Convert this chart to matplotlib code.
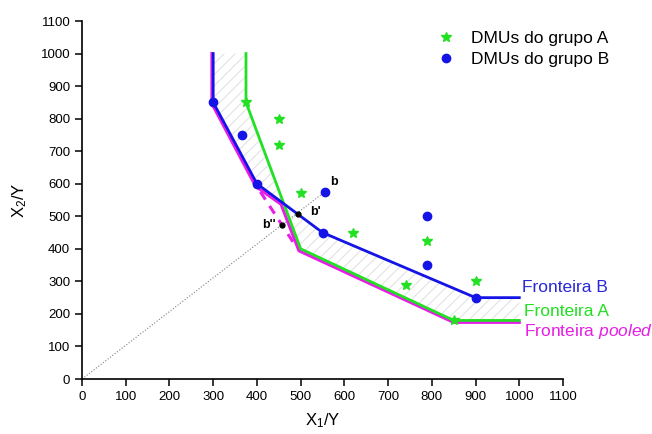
import numpy as np
import matplotlib
matplotlib.use('Agg')
import matplotlib.pyplot as plt
from matplotlib.patches import Polygon

plt.rcParams['font.family'] = ['Liberation Sans', 'DejaVu Sans']
plt.rcParams['mathtext.fontset'] = 'custom'
plt.rcParams['mathtext.rm'] = 'Liberation Sans'
plt.rcParams['mathtext.it'] = 'Liberation Sans:italic'
plt.rcParams['hatch.linewidth'] = 0.8

# DMUs
grupo_a_x = [375, 450, 450, 500, 620, 740, 790, 900, 850]
grupo_a_y = [850, 800, 720, 570, 450, 290, 425, 300, 180]
grupo_b_x = [300, 365, 400, 555, 550, 790, 790, 900]
grupo_b_y = [850, 750, 600, 575, 450, 500, 350, 250]

# fronteiras
front_b_x = [300, 300, 400, 550, 900, 1000]
front_b_y = [1000, 850, 600, 450, 250, 250]
front_a_x = [375, 375, 500, 850, 1000]
front_a_y = [1000, 850, 400, 180, 180]
front_p_x = [297, 297, 397, 455, 496, 850, 1000]
front_p_y = [1000, 846, 592, 537, 394, 174, 174]
front_p_dash_x = [408, 487]
front_p_dash_y = [575, 412]

# ponto b e projeccoes
b = (555, 575)
b1 = (493, 508)
b2 = (458, 474)

azul = '#1414e6'
verde = '#22e022'
magenta = '#e61ee6'

fig = plt.figure(figsize=(6.52, 4.34), dpi=100)
ax = fig.add_axes([0.1258, 0.1267, 0.7377, 0.8249])

# area entre as fronteiras A e B
pts = list(zip(front_b_x, front_b_y)) + list(zip(front_a_x, front_a_y))[::-1]
ax.add_patch(Polygon(pts, closed=True, facecolor='none', edgecolor='#e2e2e2',
                     linewidth=0, hatch='///', zorder=1))

ax.plot([0, b[0]], [0, b[1]], ls=':', color='#808080', lw=0.8, zorder=2)

ax.plot(front_p_x, front_p_y, color=magenta, lw=2.2, zorder=3)
ax.plot(front_p_dash_x, front_p_dash_y, color=magenta, lw=2.2, ls=(0, (3, 2.5)), zorder=3)
ax.plot(front_a_x, front_a_y, color=verde, lw=2.0, zorder=4)
ax.plot(front_b_x, front_b_y, color=azul, lw=2.0, zorder=5)

ax.plot(grupo_a_x, grupo_a_y, ls='none', marker='*', ms=7.5, color=verde,
        label='DMUs do grupo A', zorder=6)
ax.plot(grupo_b_x, grupo_b_y, ls='none', marker='o', ms=6, color=azul,
        label='DMUs do grupo B', zorder=6)
ax.plot([b1[0], b2[0]], [b1[1], b2[1]], ls='none', marker='o', ms=3.5,
        color='black', zorder=7)

ax.text(b[0] + 12, b[1] + 22, 'b', fontsize=9, fontweight='bold')
ax.text(b1[0] + 40, b1[1] - 5, "b'", fontsize=9, fontweight='bold', ha='center')
ax.text(b2[0] - 15, b2[1], "b''", fontsize=9, fontweight='bold', ha='right', va='center')

ax.text(1006, 280, 'Fronteira B', color='#2828d8', fontsize=12.5, va='center')
ax.text(1010, 207, 'Fronteira A', color=verde, fontsize=12.5, va='center')
ax.text(1010, 145, r'Fronteira $\it{pooled}$', color=magenta, fontsize=12.5, va='center')

ax.set_xlim(0, 1100)
ax.set_ylim(0, 1100)
ax.set_xticks(np.arange(0, 1101, 100))
ax.set_yticks(np.arange(0, 1101, 100))
ax.spines['top'].set_visible(False)
ax.spines['right'].set_visible(False)
for s in ('left', 'bottom'):
    ax.spines[s].set_linewidth(1.2)
ax.tick_params(direction='out', length=5, width=1.1, labelsize=9.5)
ax.set_xlabel(r'X$_1$/Y', fontsize=12, labelpad=6)
ax.set_ylabel(r'X$_2$/Y', fontsize=12, labelpad=8)

ax.legend(loc='upper left', bbox_to_anchor=(0.70, 1.015), frameon=False,
          fontsize=12.5, handletextpad=0.7, labelspacing=0.3, handlelength=1.4)

fig.savefig('out.png', dpi=100)
